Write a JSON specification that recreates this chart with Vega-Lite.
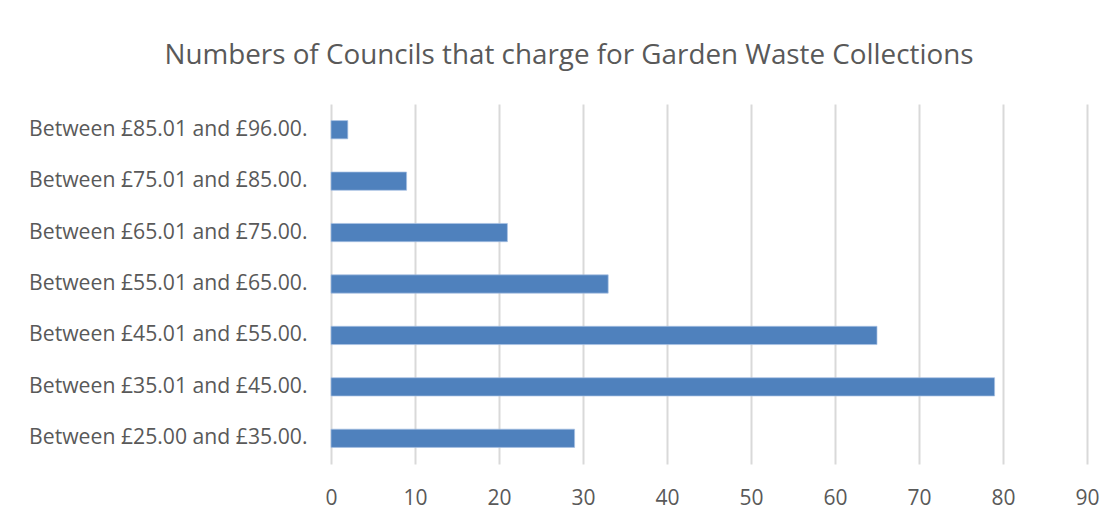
{
  "$schema": "https://vega.github.io/schema/vega-lite/v6.json",
  "width": 756,
  "height": 360,
  "autosize": {"type": "none"},
  "padding": {"left": 331, "top": 104, "right": 25, "bottom": 54},
  "background": "white",
  "title": {
    "text": "Numbers of Councils that charge for Garden Waste Collections",
    "anchor": "middle",
    "frame": "group",
    "dx": -140,
    "offset": 6,
    "font": "Open Sans",
    "fontSize": 27.8,
    "fontWeight": "normal",
    "color": "#595959",
    "baseline": "bottom"
  },
  "data": {
    "values": [
      {"band": "Between £85.01 and £96.00.", "councils": 2},
      {"band": "Between £75.01 and £85.00.", "councils": 9},
      {"band": "Between £65.01 and £75.00.", "councils": 21},
      {"band": "Between £55.01 and £65.00.", "councils": 33},
      {"band": "Between £45.01 and £55.00.", "councils": 65},
      {"band": "Between £35.01 and £45.00.", "councils": 79},
      {"band": "Between £25.00 and £35.00.", "councils": 29}
    ]
  },
  "mark": {"type": "bar", "color": "#4f81bd", "stroke": "#a9c2e4", "strokeWidth": 0.7},
  "encoding": {
    "y": {
      "field": "band",
      "type": "nominal",
      "sort": null,
      "scale": {"paddingInner": 0.645, "paddingOuter": 0.3225},
      "axis": {
        "title": null,
        "ticks": false,
        "domain": false,
        "grid": false,
        "labelPadding": 24,
        "labelFont": "Open Sans",
        "labelFontSize": 21.2,
        "labelColor": "#595959",
        "labelLimit": 400
      }
    },
    "x": {
      "field": "councils",
      "type": "quantitative",
      "scale": {"domain": [0, 90], "nice": false},
      "axis": {
        "title": null,
        "values": [0, 10, 20, 30, 40, 50, 60, 70, 80, 90],
        "ticks": false,
        "domain": false,
        "grid": true,
        "gridColor": "#d9d9d9",
        "gridWidth": 2,
        "labelPadding": 23,
        "labelFont": "Open Sans",
        "labelFontSize": 21,
        "labelColor": "#595959",
        "labelFlush": false
      }
    }
  },
  "config": {
    "view": {"stroke": null}
  }
}
